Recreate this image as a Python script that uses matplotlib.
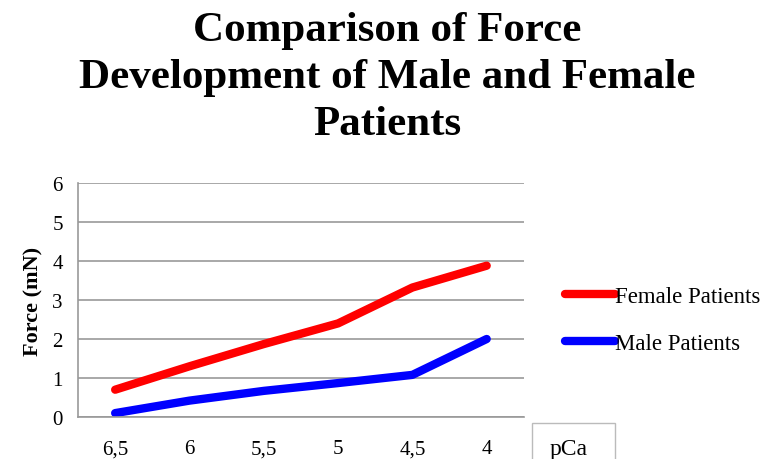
import matplotlib.pyplot as plt
from matplotlib.patches import Rectangle

pca = ["6,5", "6", "5,5", "5", "4,5", "4"]
female = [0.7, 1.3, 1.87, 2.4, 3.32, 3.88]
male = [0.1, 0.42, 0.67, 0.87, 1.08, 2.0]

plt.rcParams['font.family'] = ['Liberation Serif', 'DejaVu Serif']

fig = plt.figure(figsize=(7.74, 4.6), dpi=100)
ax = fig.add_axes([0.1008, 0.0913, 0.576, 0.5087])

x = range(len(pca))
ax.plot(x, female, color='#ff0000', lw=6, solid_capstyle='round', label='Female Patients')
ax.plot(x, male, color='#0000ff', lw=6, solid_capstyle='round', label='Male Patients')

ax.set_xlim(-0.5, 5.5)
ax.set_ylim(0, 6)
ax.set_yticks(range(7))
ax.set_xticks(list(x))
ax.set_xticklabels(pca)
ax.tick_params(axis='both', length=0, labelsize=15, colors='black')
ax.tick_params(axis='x', pad=16)
ax.tick_params(axis='y', pad=11)
ax.grid(axis='y', color='#999999', lw=1.2)
ax.set_axisbelow(True)
for s in ['top', 'right']:
    ax.spines[s].set_visible(False)
ax.spines['left'].set_color('#999999')
ax.spines['bottom'].set_color('#999999')
ax.spines['left'].set_linewidth(1.2)
ax.spines['bottom'].set_linewidth(1.2)

ax.set_ylabel('Force (mN)', fontsize=16, fontweight='bold', labelpad=6)

fig.text(0.5, 0.975, 'Comparison of Force\nDevelopment of Male and Female\nPatients',
         ha='center', va='top', fontsize=31, fontweight='bold', linespacing=1.32)

fig.legend(loc='upper left', bbox_to_anchor=(0.703, 0.42), frameon=False,
           fontsize=16.5, handlelength=2.2, handletextpad=0.0, labelspacing=1.1)

# axis title box
fig.patches.append(Rectangle((532 / 774, -0.02), 83 / 774, (460 - 424) / 460 + 0.02,
                             transform=fig.transFigure, fill=False, ec='#bbbbbb', lw=1))
fig.text(550 / 774, 0.0, 'pCa', fontsize=17, ha='left', va='bottom')

fig.savefig('out.png', dpi=100)
